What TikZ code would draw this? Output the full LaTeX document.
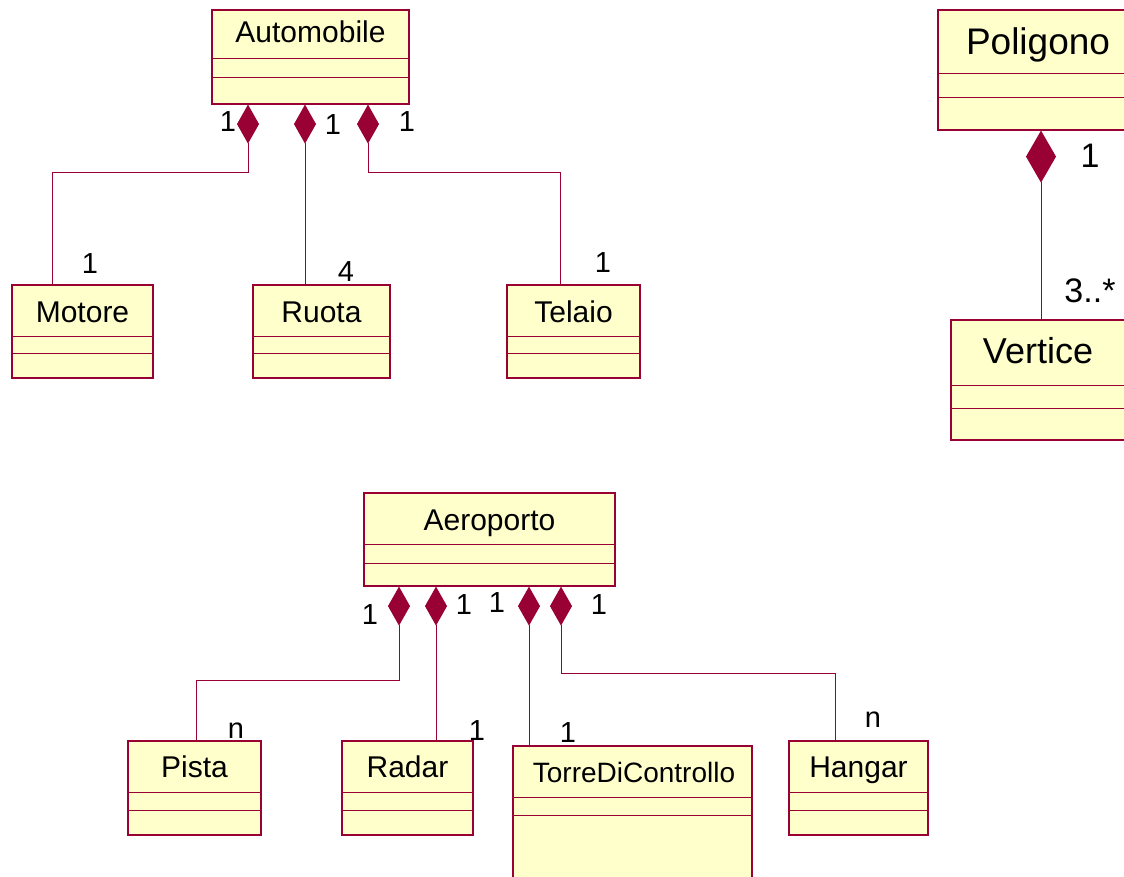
\documentclass[tikz,border=0pt]{standalone}
\usepackage{fontspec}
\setmainfont{Liberation Sans}
\usetikzlibrary{arrows.meta}

\definecolor{umlred}{RGB}{153,0,51}
\definecolor{umlfill}{RGB}{255,255,204}

\tikzset{
  classbox/.style = {draw=umlred, fill=umlfill, line width=1.2pt, rectangle, inner sep=0pt},
  divider/.style  = {draw=umlred, line width=1pt},
  classname/.style = {anchor=base, inner sep=0pt, font=\fontsize{30}{36}\selectfont},
  mult/.style     = {inner sep=0pt, font=\fontsize{29}{34}\selectfont},
  link/.style     = {draw=umlred, line width=1pt},
  comp/.style     = {link, {Diamond[length=39pt, width=22pt]}-},
  bigcomp/.style  = {link, {Diamond[length=52pt, width=30pt]}-}
}

\begin{document}
\begin{tikzpicture}[x=1pt, y=-1pt]

\useasboundingbox (0,0) rectangle (1124,877);
\clip (0,0) rectangle (1124,877);

% Automobile
\node[classbox, minimum width=197pt, minimum height=94pt] (automobile) at (310.5,57) {};
\draw[divider] (automobile.west |- 0,59) -- (automobile.east |- 0,59);
\draw[divider] (automobile.west |- 0,78) -- (automobile.east |- 0,78);
\node[classname] (automobile-t) at (automobile.north |- 0,43) {Automobile};

\node[classbox, minimum width=141pt, minimum height=93pt] (motore) at (82.5,331.5) {};
\draw[divider] (motore.west |- 0,336) -- (motore.east |- 0,336);
\draw[divider] (motore.west |- 0,353) -- (motore.east |- 0,353);
\node[classname] (motore-t) at (motore.north |- 0,322) {Motore};

\node[classbox, minimum width=137pt, minimum height=93pt] (ruota) at (321.5,331.5) {};
\draw[divider] (ruota.west |- 0,336) -- (ruota.east |- 0,336);
\draw[divider] (ruota.west |- 0,353) -- (ruota.east |- 0,353);
\node[classname] (ruota-t) at (ruota.north |- 0,322) {Ruota};

\node[classbox, minimum width=133pt, minimum height=93pt] (telaio) at (573.5,331.5) {};
\draw[divider] (telaio.west |- 0,336) -- (telaio.east |- 0,336);
\draw[divider] (telaio.west |- 0,353) -- (telaio.east |- 0,353);
\node[classname] (telaio-t) at (telaio.north |- 0,322) {Telaio};

\draw[comp] ([xshift=-62.5pt]automobile.south) -- ++(0,68) -| ([xshift=-30.5pt]motore.north);
\draw[comp] ([xshift=-5.5pt]automobile.south) -- ([xshift=-16.5pt]ruota.north);
\draw[comp] ([xshift=57.5pt]automobile.south) -- ++(0,68) -| ([xshift=-13.5pt]telaio.north);

\node[mult] (m1) at (228,122) {1};
\node[mult] (m2) at (333,125) {1};
\node[mult] (m3) at (407,122) {1};
\node[mult] (m4) at (90,264) {1};
\node[mult] (m5) at (346,272) {4};
\node[mult] (m6) at (603,263) {1};

% Poligono
\node[classbox, minimum width=202pt, minimum height=120pt] (poligono) at (1039,70) {};
\draw[divider] (poligono.west |- 0,74) -- (poligono.east |- 0,74);
\draw[divider] (poligono.west |- 0,98) -- (poligono.east |- 0,98);
\node[classname, font=\fontsize{37}{44}\selectfont] (poligono-t) at (1038,55) {Poligono};

\node[classbox, minimum width=175pt, minimum height=120pt] (vertice) at (1038.5,380) {};
\draw[divider] (vertice.west |- 0,385) -- (vertice.east |- 0,385);
\draw[divider] (vertice.west |- 0,408) -- (vertice.east |- 0,408);
\node[classname, font=\fontsize{36}{43}\selectfont] (vertice-t) at (1038,363) {Vertice};

\draw[bigcomp] ([xshift=2pt]poligono.south) -- ([xshift=2.5pt]vertice.north);

\node[mult, font=\fontsize{34}{40}\selectfont] (m7) at (1090,156) {1};
\node[mult, font=\fontsize{34}{40}\selectfont, anchor=base] (m8) at (1090,302) {3..*};

% Aeroporto
\node[classbox, minimum width=251pt, minimum height=93pt] (aeroporto) at (489.5,539.5) {};
\draw[divider] (aeroporto.west |- 0,544) -- (aeroporto.east |- 0,544);
\draw[divider] (aeroporto.west |- 0,563) -- (aeroporto.east |- 0,563);
\node[classname] (aeroporto-t) at (aeroporto.north |- 0,530) {Aeroporto};

\node[classbox, minimum width=133pt, minimum height=94pt] (pista) at (194.5,788) {};
\draw[divider] (pista.west |- 0,792) -- (pista.east |- 0,792);
\draw[divider] (pista.west |- 0,810) -- (pista.east |- 0,810);
\node[classname] (pista-t) at (pista.north |- 0,777) {Pista};

\node[classbox, minimum width=131pt, minimum height=94pt] (radar) at (407.5,788) {};
\draw[divider] (radar.west |- 0,792) -- (radar.east |- 0,792);
\draw[divider] (radar.west |- 0,810) -- (radar.east |- 0,810);
\node[classname] (radar-t) at (radar.north |- 0,777) {Radar};

\node[classbox, minimum width=239pt, minimum height=154pt] (torre) at (632.5,823) {};
\draw[divider] (torre.west |- 0,797) -- (torre.east |- 0,797);
\draw[divider] (torre.west |- 0,815) -- (torre.east |- 0,815);
\node[classname, font=\fontsize{28}{34}\selectfont] (torre-t) at (634,782) {TorreDiControllo};

\node[classbox, minimum width=139pt, minimum height=94pt] (hangar) at (858.5,788) {};
\draw[divider] (hangar.west |- 0,792) -- (hangar.east |- 0,792);
\draw[divider] (hangar.west |- 0,810) -- (hangar.east |- 0,810);
\node[classname] (hangar-t) at (hangar.north |- 0,777) {Hangar};

\draw[comp] ([xshift=-90.5pt]aeroporto.south) -- ++(0,94) -| ([xshift=1.5pt]pista.north);
\draw[comp] ([xshift=-53.5pt]aeroporto.south) -- ([xshift=28.5pt]radar.north);
\draw[comp] ([xshift=39.5pt]aeroporto.south) -- ([xshift=-103.5pt]torre.north);
\draw[comp] ([xshift=71.5pt]aeroporto.south) -- ++(0,87) -| ([xshift=-23.5pt]hangar.north);

\node[mult] (m9) at (370,615) {1};
\node[mult] (m10) at (464,605) {1};
\node[mult] (m11) at (497,603) {1};
\node[mult] (m12) at (599,605) {1};
\node[mult] (m13) at (236,731) {n};
\node[mult] (m14) at (477,731) {1};
\node[mult] (m15) at (568,733) {1};
\node[mult] (m16) at (873,720) {n};

\end{tikzpicture}
\end{document}
